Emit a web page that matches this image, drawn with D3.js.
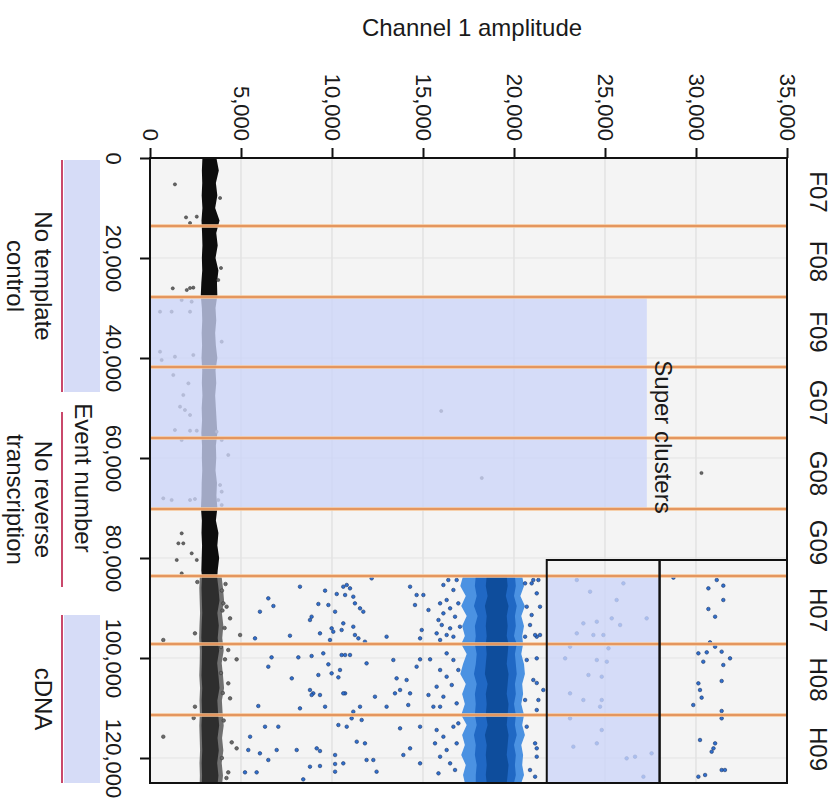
<!DOCTYPE html>
<html>
<head>
<meta charset="utf-8">
<script src="https://cdn.jsdelivr.net/npm/d3@7.9.0/dist/d3.min.js"></script>
<style>
  body { margin: 0; background: #fff; }
  svg text { font-family: "Liberation Sans", Arial, sans-serif; fill: #1a1a1a; }
</style>
</head>
<body>
<div id="chart"></div>
<script>
// ---- data ----
const wells = ["F07", "F08", "F09", "G07", "G08", "G09", "H07", "H08", "H09"];
const wellBounds = [0, 13600, 27800, 41800, 56000, 70200, 83600, 97200, 111400, 125000];
const amplitudeTicks = [0, 5000, 10000, 15000, 20000, 25000, 30000, 35000];
const eventTicks = [0, 20000, 40000, 60000, 80000, 100000, 120000];

const groupNames = [["No template", "control"], ["No reverse", "transcription"], ["cDNA"]];
const groupFrom = [400, 50800, 91400];
const groupTo = [46800, 85800, 125000];
const groupShaded = [true, false, true];

const superAmp = [0, 27300];
const superEvents = [27800, 70200];
const boxAmp = [21800, 28000, 35000];
const boxEvents = [80400, 125000];
const threshold = 5000;

// negative cluster edges in control wells: [event, low amp, high amp]
const negEdgeCtrl = [
  [0, 2880, 3650], [2500, 2850, 3780], [5000, 2870, 3620], [7500, 2840, 3700], [10000, 2880, 3580],
  [12500, 2830, 3820], [15000, 2860, 3640], [17500, 2880, 3720], [20000, 2850, 3600], [22500, 2870, 3760],
  [25000, 2820, 3680], [27500, 2790, 3700], [30000, 2850, 3600], [32500, 2870, 3640], [35000, 2840, 3580],
  [37500, 2860, 3620], [40000, 2830, 3700], [42500, 2870, 3600], [45000, 2850, 3640], [47500, 2880, 3580],
  [50000, 2840, 3620], [52500, 2860, 3660], [55000, 2820, 3700], [57500, 2860, 3620], [60000, 2850, 3640],
  [62500, 2870, 3600], [65000, 2840, 3680], [67500, 2830, 3650], [70000, 2800, 3700], [72500, 2850, 3620],
  [75000, 2830, 3760], [77500, 2860, 3700], [80000, 2840, 3800], [82500, 2820, 3720], [83600, 2850, 3700]
];
// negative cluster edges in cDNA wells
const negEdgeCdna = [
  [83600, 2860, 3680], [86000, 2830, 3760], [88500, 2850, 3820], [91000, 2870, 3700], [93500, 2840, 3780],
  [96000, 2820, 3720], [98500, 2860, 3800], [101000, 2850, 3690], [103500, 2830, 3760], [106000, 2870, 3820],
  [108500, 2840, 3700], [111000, 2860, 3740], [113500, 2830, 3800], [116000, 2850, 3710], [118500, 2870, 3780],
  [121000, 2840, 3690], [123500, 2860, 3760], [125000, 2850, 3720]
];
// positive cluster: [event, outerLo, midLo, coreLo, coreHi, midHi, outerHi]
const posEdge = [
  [83600, 17200, 17900, 18500, 19600, 20050, 20450], [85600, 17050, 17850, 18450, 19650, 20100, 20550],
  [87600, 17350, 17950, 18550, 19550, 20000, 20350], [89600, 17100, 17800, 18400, 19700, 20150, 20600],
  [91600, 17400, 18000, 18500, 19600, 20050, 20400], [93600, 17150, 17850, 18450, 19650, 20100, 20550],
  [95600, 17300, 17900, 18500, 19600, 20000, 20450], [97200, 17100, 17850, 18450, 19700, 20150, 20500],
  [99200, 17400, 17950, 18500, 19650, 20050, 20400], [101200, 17200, 17900, 18450, 19600, 20100, 20550],
  [103200, 17050, 17800, 18400, 19700, 20150, 20600], [105200, 17350, 17950, 18550, 19650, 20050, 20450],
  [107200, 17150, 17850, 18450, 19600, 20100, 20500], [109200, 17300, 17900, 18500, 19700, 20000, 20400],
  [111400, 17100, 17850, 18450, 19650, 20100, 20550], [113400, 17400, 17950, 18550, 19600, 20050, 20450],
  [115400, 17150, 17800, 18400, 19700, 20150, 20600], [117400, 17300, 17900, 18500, 19650, 20000, 20400],
  [119400, 17100, 17850, 18450, 19600, 20100, 20500], [121400, 17350, 17950, 18500, 19700, 20050, 20450],
  [123400, 17200, 17900, 18450, 19650, 20100, 20550], [125000, 17300, 17900, 18500, 19600, 20000, 20400]
];

// scattered droplets in control wells: [amplitude, event]
const ctrlPoints = [
  [1370, 5270], [1980, 11870], [2200, 13000], [2570, 11730], [3850, 8000], [3900, 22000], [3750, 24400],
  [1250, 26070], [2020, 26400], [2200, 26000], [2380, 25930], [1740, 28400], [2290, 28740],
  [550, 30740], [1190, 30740], [2200, 30740], [3940, 36740], [550, 38740], [1370, 39740], [2380, 39400],
  [640, 40400], [1280, 43400], [2110, 45070], [1830, 47400], [1650, 49740], [1920, 50400], [2200, 51400],
  [16000, 50600], [1370, 54400], [2200, 54540], [2570, 54540], [3660, 54740], [1740, 56400], [3940, 56400],
  [4300, 59400], [3850, 65400], [3940, 66740], [18230, 64000], [30300, 63000], [730, 68060], [1190, 68400],
  [2200, 68400], [2470, 68200], [3750, 68400], [3940, 69400], [1740, 75070], [1560, 77070], [1830, 77070],
  [2290, 79070], [1470, 80400], [2570, 80400], [1740, 83070]
];

// scattered droplets in cDNA wells: [amplitude, event]
const cdnaPoints = [
  // negatives and halo
  [4400, 92070], [4030, 89070], [4210, 89740], [2470, 95070], [730, 96400], [4300, 98400], [4120, 100270],
  [4760, 100270], [4300, 105070], [4400, 108070], [2470, 109740], [730, 115740], [4490, 116870],
  [4760, 118070], [4300, 122870], [3950, 86500], [4100, 94000], [3900, 103000], [4050, 112500],
  [3950, 120000], [4200, 124000], [2600, 84800], [2400, 112000], [3900, 97800], [4000, 107000],
  [4150, 85200], [3980, 90500], [4950, 95400],
  // H07
  [8240, 85740], [9620, 86530], [10260, 87200], [10620, 85740], [10810, 85400], [6500, 88070], [6780, 89600],
  [9250, 89200], [9800, 89400], [6040, 90740], [10170, 90740], [8880, 91740], [8790, 92400], [10620, 93070],
  [9980, 94070], [10070, 94740], [10530, 94400], [7690, 95540], [9340, 95070], [9890, 96400], [5770, 96070],
  [10990, 86070], [10720, 87400], [11170, 87740], [11260, 89070], [11540, 90070], [11720, 90740], [12180, 84070],
  [11170, 93740], [11260, 95400], [11450, 96070], [11810, 96740], [13000, 95740], [14290, 85740], [14650, 87400],
  [14560, 89400], [14930, 94400], [14840, 96070],
  [15940, 89070], [16120, 91070], [16300, 88400], [16490, 90070], [15850, 92400], [16030, 93400], [16490, 94070],
  [16760, 91740], [15750, 95070], [16300, 95400], [16940, 89070], [16670, 86400], [16120, 85400], [16390, 84400],
  [16850, 84400], [17030, 93740], [15940, 96400], [16670, 95740], [15020, 87400], [15300, 90400],
  [20610, 85070], [20970, 85070], [20700, 89740], [20880, 93400], [21250, 87070], [20610, 95740], [21250, 95740],
  [20970, 91400], [21340, 84400], [21060, 84400], [21430, 89740], [21160, 95400], [21430, 95400],
  [23450, 84400], [24180, 86740], [26010, 85070], [25640, 88400], [23810, 93070], [24550, 92740], [25370, 92070],
  [25830, 93400], [27290, 92070], [23450, 95070], [24360, 95400], [24910, 95400],
  [28760, 83930], [31140, 84400], [31500, 85530], [30680, 86070], [31500, 88400], [30680, 90200], [31050, 91740],
  // H08
  [6680, 99870], [8150, 99870], [8880, 99600], [9520, 99070], [10530, 99400], [6500, 101740], [9800, 101270],
  [10440, 102400], [9980, 103070], [7790, 104070], [9250, 103400], [10350, 103870], [8790, 106400], [8970, 107070],
  [8880, 107400], [9340, 107400], [10720, 107070], [5950, 109600], [8240, 110070], [9620, 109740],
  [10990, 99400], [10720, 99400], [11900, 101070], [13370, 100400], [14840, 100270], [15390, 100270],
  [14650, 101740], [13550, 104070], [14100, 104400], [13460, 107070], [13740, 106400], [12360, 107740],
  [10620, 107070], [14290, 107070], [14190, 109400], [15300, 107400], [13000, 109740], [11540, 109740],
  [11170, 110740],
  [15940, 102400], [16300, 103740], [15750, 105740], [16120, 107740], [16670, 100400], [16300, 99070],
  [16850, 109070], [15940, 109740], [16580, 105400], [16940, 102400], [15570, 109740],
  [20700, 100400], [21060, 104400], [20610, 108400], [21250, 110400], [21250, 100070], [21250, 105000],
  [21610, 106400], [21340, 108400],
  [23080, 97740], [25190, 98070], [22810, 100070], [24550, 100400], [25100, 100740], [24090, 103400],
  [24820, 103740], [23080, 107070], [23810, 108400], [24820, 108400], [24730, 109740],
  [30770, 96870], [31050, 97740], [31410, 98740], [30130, 99070], [30590, 98870], [31870, 100070],
  [30400, 100740], [31500, 101400], [31410, 104600], [30130, 105070], [30220, 106400], [30310, 107930],
  [29850, 109400], [31410, 110600], [31410, 112070],
  // H09
  [6320, 113740], [7050, 113740], [10350, 113400], [5500, 115740], [5400, 118400], [6040, 119070],
  [6960, 118400], [8060, 118400], [9160, 118070], [9340, 118600], [10170, 119400], [6500, 120400],
  [10620, 121070], [10170, 121200], [8790, 121740], [9340, 121600], [5220, 122870], [5860, 122870],
  [10170, 122740], [8420, 124270],
  [11080, 112070], [11630, 112400], [10810, 113740], [11360, 116740], [11810, 117070], [14290, 118070],
  [13920, 119400], [11900, 120400], [12270, 120400], [14840, 121070], [12450, 122740], [13740, 114070],
  [14840, 113740],
  [15750, 114400], [16120, 115740], [15660, 117070], [16300, 118400], [15940, 119740], [16490, 121070],
  [16760, 122400], [15850, 123070], [16850, 117070], [16670, 113740], [16940, 113070],
  [20700, 113740], [21160, 117070], [20880, 122400], [21250, 119740], [21250, 118070], [21160, 123740],
  [23080, 112070], [24820, 114400], [23260, 117740], [24550, 117070], [26190, 120070], [26650, 119740],
  [27560, 119070], [27110, 123740],
  [30220, 116400], [31050, 117070], [30960, 118070], [30860, 118740], [31410, 122400], [31590, 122400],
  [30130, 123740], [30500, 123400]
];

// ---- layout ----
const width = 837, height = 807;
const plot = { left: 150, right: 787, top: 158, bottom: 783 };
const overlay = "rgba(204,213,248,0.78)";

const svg = d3.select("#chart").append("svg")
  .attr("width", width).attr("height", height);

const x = d3.scaleLinear().domain([0, 35000]).range([plot.left, plot.right]);
const y = d3.scaleLinear().domain([0, 125000]).range([plot.top, plot.bottom]);

// plot background
svg.append("rect")
  .attr("x", plot.left).attr("y", plot.top)
  .attr("width", plot.right - plot.left).attr("height", plot.bottom - plot.top)
  .attr("fill", "#f4f4f4");

// gridlines
svg.append("g").selectAll("line").data(amplitudeTicks.slice(1, -1)).join("line")
  .attr("x1", d => x(d)).attr("x2", d => x(d))
  .attr("y1", plot.top).attr("y2", plot.bottom)
  .attr("stroke", "#d9d9d9").attr("stroke-width", 1);
svg.append("g").selectAll("line").data(eventTicks.slice(1)).join("line")
  .attr("x1", plot.left).attr("x2", plot.right)
  .attr("y1", d => y(d)).attr("y2", d => y(d))
  .attr("stroke", "#e3e3e3").attr("stroke-width", 1);

// cluster bands drawn as areas along the event axis
function band(rows, lo, hi, color, pad = [0, 0]) {
  const area = d3.area()
    .y(d => y(d[0]))
    .x0(d => x(d[lo] - pad[0]))
    .x1(d => x(d[hi] + pad[1]))
    .curve(d3.curveLinear);
  svg.append("path").datum(rows)
    .attr("d", area)
    .attr("fill", color);
}

// negative cluster (control wells, black)
band(negEdgeCtrl, 1, 2, "#0d0d0d");
// negative cluster (cDNA wells, dark grey with lighter rim)
band(negEdgeCdna, 1, 2, "#707070", [120, 250]);
band(negEdgeCdna, 1, 2, "#2e2e2e");

// positive cluster (cDNA wells, blue)
band(posEdge, 1, 6, "#4b92e2");
band(posEdge, 2, 5, "#2068c4");
band(posEdge, 3, 4, "#0e4d9c");

// scattered droplets
svg.append("g").selectAll("circle").data(ctrlPoints).join("circle")
  .attr("cx", d => x(d[0])).attr("cy", d => y(d[1]))
  .attr("r", 1.6).attr("fill", "#666").attr("stroke", "#333").attr("stroke-width", 0.5);

svg.append("g").selectAll("circle").data(cdnaPoints).join("circle")
  .attr("cx", d => x(d[0])).attr("cy", d => y(d[1]))
  .attr("r", 1.8)
  .attr("fill", d => d[0] < threshold ? "#6a6a6a" : "#2f6fcf")
  .attr("stroke", d => d[0] < threshold ? "#3a3a3a" : "#1c3565")
  .attr("stroke-width", 0.6);

// super cluster overlay
svg.append("rect")
  .attr("x", x(superAmp[0])).attr("y", y(superEvents[0]))
  .attr("width", x(superAmp[1]) - x(superAmp[0]))
  .attr("height", y(superEvents[1]) - y(superEvents[0]))
  .attr("fill", overlay);

// shaded part of the first gate box
svg.append("rect")
  .attr("x", x(boxAmp[0])).attr("y", y(wellBounds[6]))
  .attr("width", x(boxAmp[1]) - x(boxAmp[0]))
  .attr("height", y(boxEvents[1]) - y(wellBounds[6]))
  .attr("fill", overlay);

// well separators
const seps = wellBounds.slice(1, -1);
svg.append("g").selectAll("line").data(seps).join("line")
  .attr("x1", plot.left).attr("x2", plot.right)
  .attr("y1", d => y(d)).attr("y2", d => y(d))
  .attr("stroke", "#f7c594").attr("stroke-width", 3.5);
svg.append("g").selectAll("line").data(seps).join("line")
  .attr("x1", plot.left).attr("x2", plot.right)
  .attr("y1", d => y(d)).attr("y2", d => y(d))
  .attr("stroke", "#d2692a").attr("stroke-width", 1.2);

// gate boxes
svg.append("g").selectAll("rect").data([0, 1]).join("rect")
  .attr("x", i => x(boxAmp[i])).attr("y", y(boxEvents[0]))
  .attr("width", i => x(boxAmp[i + 1]) - x(boxAmp[i]))
  .attr("height", y(boxEvents[1]) - y(boxEvents[0]))
  .attr("fill", "none").attr("stroke", "#111").attr("stroke-width", 2);

// frame
svg.append("rect")
  .attr("x", plot.left).attr("y", plot.top)
  .attr("width", plot.right - plot.left).attr("height", plot.bottom - plot.top)
  .attr("fill", "none").attr("stroke", "#111").attr("stroke-width", 2);

// top axis
const xAxis = svg.append("g")
  .attr("transform", `translate(0,${plot.top})`)
  .call(d3.axisTop(x).tickValues(amplitudeTicks).tickSize(10).tickFormat(d3.format(",")));
xAxis.select(".domain").remove();
xAxis.selectAll(".tick line").attr("stroke", "#111").attr("stroke-width", 2);
xAxis.selectAll(".tick text")
  .attr("x", null).attr("y", null).attr("dy", null)
  .attr("transform", "translate(0,-17) rotate(90)")
  .attr("text-anchor", "end")
  .attr("dominant-baseline", "central")
  .style("font-size", "22px")
  .style("font-family", "'Liberation Sans', Arial, sans-serif")
  .attr("fill", "#1a1a1a");

// left axis
const yAxis = svg.append("g")
  .attr("transform", `translate(${plot.left},0)`)
  .call(d3.axisLeft(y).tickValues(eventTicks).tickSize(10).tickFormat(d3.format(",")));
yAxis.select(".domain").remove();
yAxis.selectAll(".tick line").attr("stroke", "#111").attr("stroke-width", 2);
yAxis.selectAll(".tick text")
  .attr("x", null).attr("y", null).attr("dy", null)
  .attr("transform", "translate(-37,0) rotate(90)")
  .attr("text-anchor", "middle")
  .attr("dominant-baseline", "central")
  .style("font-size", "22px")
  .style("font-family", "'Liberation Sans', Arial, sans-serif")
  .attr("fill", "#1a1a1a");

// axis titles
svg.append("text")
  .attr("x", 472).attr("y", 36)
  .attr("text-anchor", "middle")
  .style("font-size", "24px")
  .text("Channel 1 amplitude");

svg.append("text")
  .attr("transform", `translate(83,${y(64000)}) rotate(90)`)
  .attr("text-anchor", "middle").attr("dominant-baseline", "central")
  .style("font-size", "24px")
  .text("Event number");

// super clusters label
svg.append("text")
  .attr("transform", `translate(${x(28200)},${y(55800)}) rotate(90)`)
  .attr("text-anchor", "middle").attr("dominant-baseline", "central")
  .style("font-size", "24px")
  .text("Super clusters");

// well labels on the right
svg.append("g").selectAll("text").data(wells).join("text")
  .attr("transform", (d, i) => `translate(818,${y((wellBounds[i] + wellBounds[i + 1]) / 2)}) rotate(90)`)
  .attr("text-anchor", "middle").attr("dominant-baseline", "central")
  .style("font-size", "24px")
  .text(d => d);

// sample groups on the left
groupNames.forEach((names, i) => {
  const y0 = y(groupFrom[i]), y1 = y(groupTo[i]);
  if (groupShaded[i]) {
    svg.append("rect")
      .attr("x", 64).attr("y", y0).attr("width", 36).attr("height", y1 - y0)
      .attr("fill", "#d6dcf7");
  }
  svg.append("line")
    .attr("x1", 62).attr("x2", 62).attr("y1", y0).attr("y2", y1)
    .attr("stroke", "#c9486b").attr("stroke-width", 2);
  const t = svg.append("text")
    .attr("transform", `translate(44,${(y0 + y1) / 2}) rotate(90)`)
    .attr("text-anchor", "middle").attr("dominant-baseline", "central")
    .style("font-size", "24px");
  names.forEach((n, j) => {
    t.append("tspan").attr("x", 0).attr("dy", j === 0 ? 0 : 28).text(n);
  });
});
</script>
</body>
</html>
